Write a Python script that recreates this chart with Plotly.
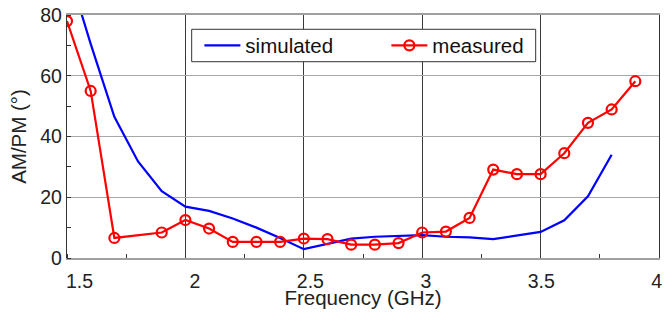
import plotly.graph_objects as go

# Simulated AM/PM (deg)
sim_freq = [1.5, 1.6, 1.7, 1.8, 1.9, 2.0, 2.1, 2.2, 2.3, 2.4, 2.5, 2.6, 2.7, 2.8, 2.9, 3.0, 3.1, 3.2, 3.3, 3.4, 3.5, 3.6, 3.7, 3.8]
sim_vals = [96, 70.5, 46.5, 31.8, 22.0, 16.9, 15.5, 13.0, 10.0, 6.6, 2.9, 4.6, 6.4, 7.0, 7.3, 7.5, 7.0, 6.8, 6.2, 7.3, 8.6, 12.4, 20.3, 34.0]

# Measured AM/PM (deg)
meas_freq = [1.5, 1.6, 1.7, 1.9, 2.0, 2.1, 2.2, 2.3, 2.4, 2.5, 2.6, 2.7, 2.8, 2.9, 3.0, 3.1, 3.2, 3.3, 3.4, 3.5, 3.6, 3.7, 3.8, 3.9]
meas_vals = [78.0, 55.0, 6.6, 8.4, 12.5, 9.7, 5.3, 5.3, 5.3, 6.4, 6.2, 4.4, 4.4, 4.9, 8.4, 8.7, 13.2, 29.1, 27.6, 27.6, 34.5, 44.5, 48.9, 58.2]

x_ticks = [1.5, 2, 2.5, 3, 3.5, 4]
x_tick_text = ["1.5", "2", "2.5", "3", "3.5", "4"]
y_ticks = [0, 20, 40, 60, 80]

FONT = "Liberation Sans, Arial, sans-serif"

fig = go.Figure()
fig.add_trace(go.Scatter(x=sim_freq, y=sim_vals, mode="lines", name="simulated",
                         line=dict(color="#0000FF", width=2.2)))
fig.add_trace(go.Scatter(x=meas_freq, y=meas_vals, mode="lines+markers", name="measured",
                         line=dict(color="#FF0000", width=2.2),
                         marker=dict(symbol="circle-open", size=10, color="#FF0000",
                                     line=dict(width=2.2, color="#FF0000"))))
# carrier for the tick-label axis
fig.add_trace(go.Scatter(x=x_ticks, y=[None] * len(x_ticks), xaxis="x2", yaxis="y",
                         mode="lines", showlegend=False, hoverinfo="skip"))

# legend frame
fig.add_shape(type="rect", xref="paper", yref="paper",
              x0=0.2106, x1=0.7917, y0=0.8078, y1=0.9412,
              line=dict(color="#333333", width=1), fillcolor="white", layer="above")

fig.update_layout(
    width=664, height=316,
    margin=dict(l=67, r=5, t=15, b=58, autoexpand=False),
    paper_bgcolor="white", plot_bgcolor="white",
    font=dict(family=FONT, size=19.5, color="#222222"),
    showlegend=True,
    legend=dict(x=0.2236, y=0.9568, xanchor="left", yanchor="top",
                orientation="h", bgcolor="rgba(0,0,0,0)", borderwidth=0,
                font=dict(size=20.5, family=FONT, color="#111111"),
                entrywidth=136, itemwidth=36),
    xaxis=dict(range=[1.5, 4], tickvals=x_ticks, showticklabels=False, automargin=False,
               showgrid=True, gridcolor="#3a3a3a", gridwidth=1.2,
               showline=True, linecolor="#a0a0a0", linewidth=1.5, mirror=True,
               zeroline=False, ticks="",
               minor=dict(dtick=0.25, tick0=1.5, ticks="inside", ticklen=4,
                          tickcolor="#333333", tickwidth=1, showgrid=False),
               title=dict(text="Frequency (GHz)", font=dict(size=20.5), standoff=32)),
    xaxis2=dict(range=[1.446, 4.010], overlaying="x", anchor="y", side="bottom",
                automargin=False, ticklabelstandoff=9,
                tickvals=x_ticks, ticktext=x_tick_text, showgrid=False,
                showline=False, zeroline=False, ticks="", tickfont=dict(size=19.5)),
    yaxis=dict(range=[0, 80], tickvals=y_ticks, automargin=False,
               showgrid=True, gridcolor="#a8a8a8", gridwidth=1.3,
               showline=True, linecolor="#333333", linewidth=1.3, mirror=True,
               zeroline=False, ticks="", tickfont=dict(size=19.5),
               minor=dict(dtick=10, tick0=0, ticks="inside", ticklen=4,
                          tickcolor="#333333", tickwidth=1, showgrid=False),
               title=dict(text="AM/PM (°)", font=dict(size=20.5), standoff=8)),
)

fig.write_html("out.html", config={"displayModeBar": False},
               post_script="document.body.style.margin='0';document.body.style.overflow='hidden';")
